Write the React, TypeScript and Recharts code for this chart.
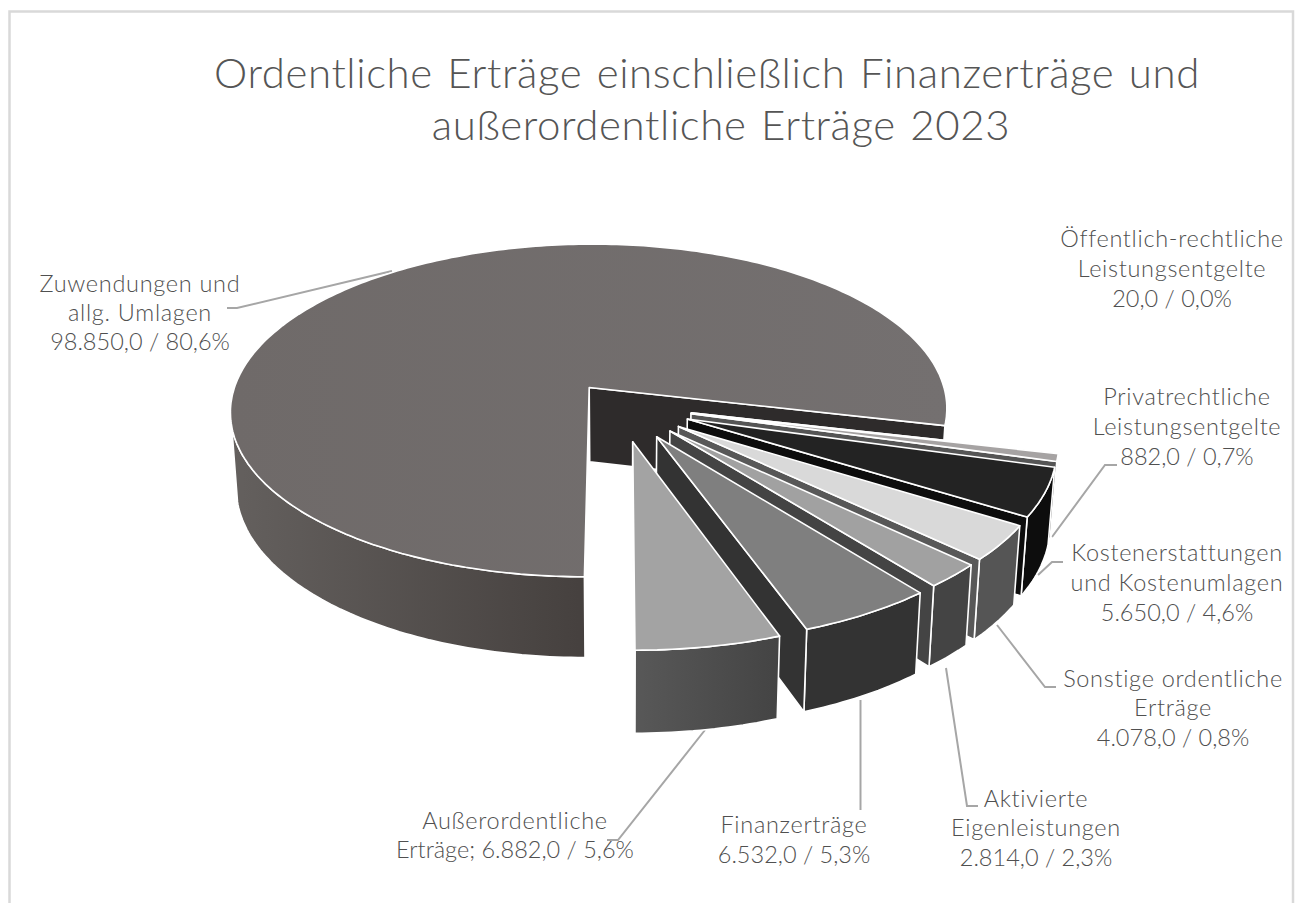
import { Pie, PieChart } from "recharts"

const categories = [
    "Zuwendungen und allg. Umlagen",
    "Öffentlich-rechtliche Leistungsentgelte",
    "Privatrechtliche Leistungsentgelte",
    "Kostenerstattungen und Kostenumlagen",
    "Sonstige ordentliche Erträge",
    "Aktivierte Eigenleistungen",
    "Finanzerträge",
    "Außerordentliche Erträge",
]
const values = [98850, 20, 882, 5650, 4078, 2814, 6532, 6882]

const titleLines = ["Ordentliche Erträge einschließlich Finanzerträge und", "außerordentliche Erträge 2023"]
const labelLines = [
    ["Zuwendungen und", "allg. Umlagen", "98.850,0 / 80,6%"],
    ["Öffentlich-rechtliche", "Leistungsentgelte", "20,0 / 0,0%"],
    ["Privatrechtliche", "Leistungsentgelte", "882,0 / 0,7%"],
    ["Kostenerstattungen", "und Kostenumlagen", "5.650,0 / 4,6%"],
    ["Sonstige ordentliche", "Erträge", "4.078,0 / 0,8%"],
    ["Aktivierte", "Eigenleistungen", "2.814,0 / 2,3%"],
    ["Finanzerträge", "6.532,0 / 5,3%"],
    ["Außerordentliche", "Erträge; 6.882,0 / 5,6%"],
]

// colours per slice: top face, radial wall, outer wall
const topColors = ["url(#bigTop)", "#d9d9d9", "#a6a3a3", "#232323", "#d9d9d9", "#a1a1a1", "#7f7f7f", "#a3a3a3"]
const sideColors = ["#2e2b2b", "#2e2b2b", "#555555", "#0d0d0d", "#585858", "#444444", "#333333", "#4f4f4f"]
const rimColors = ["url(#bigRim)", "#2e2b2b", "#0d0d0d", "#0d0d0d", "#555555", "#444444", "#333333", "url(#lowRim)"]
const explode = [0.135, 0.205, 0.205, 0.205, 0.205, 0.205, 0.21, 0.215]

// label placement: each block has a centre x, each line a baseline y
const labelX = [140, 1172, 1187, 1177, 1173, 1036, 794, 515]
const labelY = [
    [292, 321, 350],
    [247, 277, 307],
    [405, 435, 465],
    [561, 591, 621],
    [687, 716, 746],
    [807, 836, 866],
    [833, 863],
    [829, 858],
]
const leaders = [
    "227,308 237,308 392,271",
    "1117,465 1105,465 1052,537",
    "1063,562 1052,562 1038,575",
    "1056,687 1045,687 997,625",
    "978,806 967,806 946,668",
    "860.5,700 860.5,810",
    "705,730 618,840 607,840",
]

const cx = 619
const cy = 405
const radius = 360
const squash = 168 / 360
const persp = 0.14
const depth = 75

const project = (u: number, v: number, low = false) => {
    const s = 1 + persp * v
    const x = cx + (radius * u) / s
    const y = cy - (radius * squash * v) / s
    if (!low) return [x, y]
    return [cx + (x - cx) * 0.985, y + depth / (1 + 0.08 * v)]
}

const toPath = (pts: number[][]) => "M" + pts.map(p => p[0].toFixed(1) + " " + p[1].toFixed(1)).join("L") + "Z"

const Slice3D = (props: any) => {
    const { startAngle, endAngle, index } = props
    const mid = ((startAngle + endAngle) / 2) * (Math.PI / 180)
    const ou = explode[index] * Math.cos(mid)
    const ov = explode[index] * Math.sin(mid)
    const steps = Math.max(2, Math.ceil(Math.abs(startAngle - endAngle)))
    const rim: number[][] = []
    const front: number[][] = []
    let facing = true
    for (let i = 0; i <= steps; i++) {
        const a = (startAngle + ((endAngle - startAngle) * i) / steps) * (Math.PI / 180)
        const p = [ou + Math.cos(a), ov + Math.sin(a)]
        rim.push(p)
        // outer wall only as far round as it faces the viewer
        if (Math.sin(a) > -0.22) facing = false
        if (facing) front.push(p)
    }
    const top = rim.map(p => project(p[0], p[1]))
    const frontTop = front.map(p => project(p[0], p[1]))
    const frontLow = front.map(p => project(p[0], p[1], true))
    const last = rim[rim.length - 1]
    const apex = project(ou, ov)
    const apexLow = project(ou, ov, true)
    return (
        <g stroke="#fff" strokeWidth={1.6} strokeLinejoin="round">
            <path d={toPath([...frontTop, ...frontLow.slice().reverse()])} fill={rimColors[index]} />
            <path
                d={toPath([apex, project(last[0], last[1]), project(last[0], last[1], true), apexLow])}
                fill={sideColors[index]}
            />
            <path d={toPath([apex, ...top])} fill={topColors[index]} />
        </g>
    )
}

const chartData = categories.map((name, i) => ({ name, value: values[i] }))

const App = () => {
    return (
        <div style={{ position: "absolute", left: 0, top: 0 }}>
            <PieChart width={1298} height={903} margin={{ top: 0, right: 0, bottom: 0, left: 0 }}>
                <defs>
                    <linearGradient id="bigTop" gradientUnits="userSpaceOnUse" x1="231" y1="0" x2="948" y2="0">
                        <stop offset="0" stopColor="#6f6a69" />
                        <stop offset="1" stopColor="#747070" />
                    </linearGradient>
                    <linearGradient id="bigRim" gradientUnits="userSpaceOnUse" x1="231" y1="0" x2="590" y2="0">
                        <stop offset="0" stopColor="#64605e" />
                        <stop offset="1" stopColor="#45403e" />
                    </linearGradient>
                    <linearGradient id="lowRim" gradientUnits="userSpaceOnUse" x1="635" y1="0" x2="778" y2="0">
                        <stop offset="0" stopColor="#585858" />
                        <stop offset="1" stopColor="#444444" />
                    </linearGradient>
                </defs>
                <rect x={9.5} y={11.5} width={1283.5} height={900} fill="#fff" stroke="#d9d9d9" strokeWidth={2.5} />
                {leaders.map((pts, i) => (
                    <polyline key={i} points={pts} fill="none" stroke="#a6a6a6" strokeWidth={2} />
                ))}
                <Pie
                    data={chartData}
                    dataKey="value"
                    nameKey="name"
                    cx={cx}
                    cy={cy}
                    outerRadius={radius}
                    startAngle={270}
                    endAngle={-90}
                    paddingAngle={0}
                    minAngle={0}
                    stroke="#fff"
                    isAnimationActive={false}
                    shape={Slice3D}
                />
                {titleLines.map((line, i) => (
                    <text
                        key={i}
                        x={i === 0 ? 707 : 721}
                        y={88 + i * 52}
                        textAnchor="middle"
                        fontFamily="Lato"
                        fontWeight={300}
                        fontSize={42}
                        letterSpacing={0.6}
                        wordSpacing={2.5}
                        fill="#555555"
                    >
                        {line}
                    </text>
                ))}
                {labelLines.map((lines, i) =>
                    lines.map((line, j) => (
                        <text
                            key={i + "-" + j}
                            x={labelX[i]}
                            y={labelY[i][j]}
                            textAnchor="middle"
                            fontFamily="Lato"
                            fontWeight={300}
                            fontSize={23.5}
                            letterSpacing={line.includes("/") ? 0 : 0.7}
                            fill="#505050"
                        >
                            {line}
                        </text>
                    )),
                )}
            </PieChart>
        </div>
    )
}

export default App
